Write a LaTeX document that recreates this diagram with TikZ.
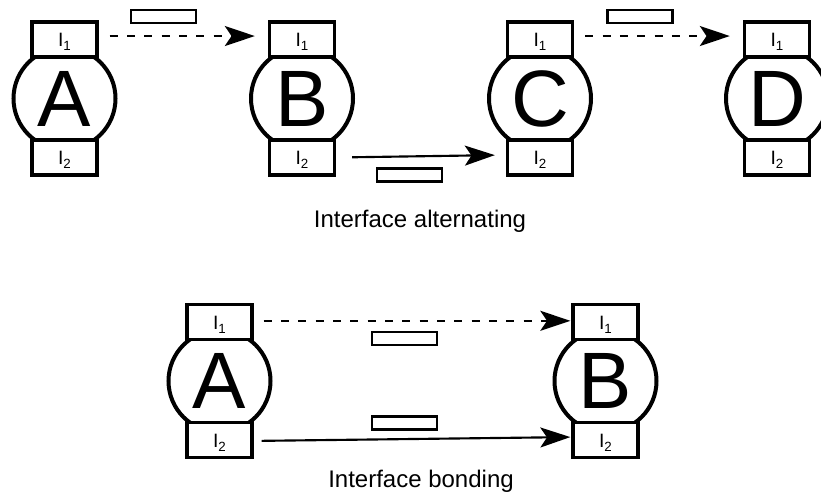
\documentclass[tikz,border=0pt]{standalone}
\usepackage{fontspec}
\setmainfont{Liberation Sans}
\usetikzlibrary{arrows.meta}

% one drawing unit = one pixel (0.75pt), y grows downwards
\tikzset{
  x=0.75pt, y=-0.75pt,
  unitcircle/.style={circle, draw, line width=3pt, fill=white, minimum size=76.5pt,
    inner sep=0pt, font=\fontsize{60}{60}\selectfont},
  portbox/.style={rectangle, draw, line width=2.5pt, fill=white, minimum width=48.75pt,
    minimum height=26.25pt, inner sep=0pt, text height=10.5pt, text depth=0pt,
    font=\fontsize{14.5}{15}\selectfont},
  msgbox/.style={rectangle, draw, line width=1.7pt, minimum width=48.75pt,
    minimum height=9.75pt, inner sep=0pt},
  tip/.style={-{Stealth[length=22.5pt, width=15pt, inset=5pt]}},
  flowsolid/.style={tip, line width=1.6pt},
  flowdashed/.style={tip, line width=1.4pt, dash pattern=on 6pt off 7pt},
  caption/.style={anchor=base, font=\fontsize{18}{20}\selectfont},
}

% a unit: circle with two interface boxes, one above and one below
\newcommand{\netunit}[4]{%
  \node[unitcircle] (#1) at (#2,#3) {#4};
  \node[portbox] (#1up) at (#2,#3-59) {I{\fontsize{10}{10}\selectfont\raisebox{-3pt}{1}}};
  \node[portbox] (#1dn) at (#2,#3+59) {I{\fontsize{10}{10}\selectfont\raisebox{-3pt}{2}}};
}

\begin{document}
\begin{tikzpicture}
\useasboundingbox (0,0) rectangle (821,494);

% alternating interfaces
\netunit{ta}{64.5}{98.5}{A}
\netunit{tb}{302}{98.5}{B}
\netunit{tc}{540}{98.5}{C}
\netunit{td}{777}{98.5}{D}

\draw[flowdashed, shorten <=11*0.75pt, shorten >=13*0.75pt]
  ([yshift=2.6pt]taup.east) -- ([yshift=2.6pt]tbup.west);
\draw[flowsolid, shorten <=16*0.75pt, shorten >=11*0.75pt]
  (tbdn.east) -- ([yshift=1.9pt]tcdn.west);
\draw[flowdashed, shorten <=11*0.75pt, shorten >=13*0.75pt]
  ([yshift=2.6pt]tcup.east) -- ([yshift=2.6pt]tdup.west);

\node[msgbox] (m1) at (163.5,16.5) {};
\node[msgbox] (m2) at (409.5,175) {};
\node[msgbox] (m3) at (640,16.5) {};

\node[caption] (cap1) at (420,227) {Interface alternating};

% bonded interfaces
\netunit{ba}{219.5}{381}{A}
\netunit{bb}{605.5}{381}{B}

\draw[flowdashed, shorten <=10*0.75pt, shorten >=1*0.75pt]
  ([yshift=0.9pt]baup.east) -- ([yshift=0.9pt]bbup.west);
\draw[flowsolid, shorten <=8*0.75pt, shorten >=1*0.75pt]
  ([yshift=-0.7pt]badn.east) -- ([yshift=2.2pt]bbdn.west);

\node[msgbox] (m4) at (404.5,338.5) {};
\node[msgbox] (m5) at (404.5,423) {};

\node[caption] (cap2) at (421,487) {Interface bonding};
\end{tikzpicture}
\end{document}
